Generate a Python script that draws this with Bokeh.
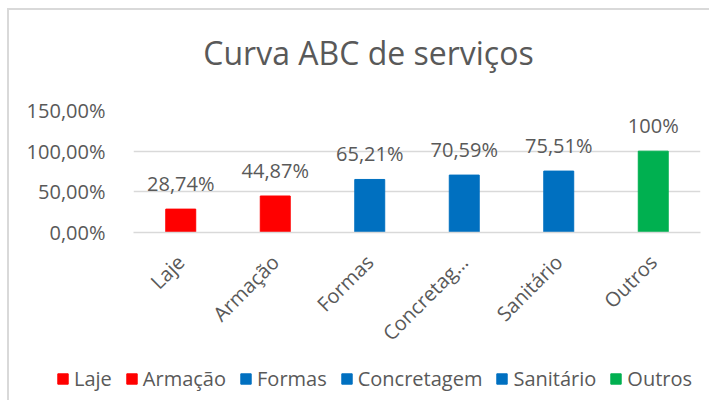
from bokeh.plotting import figure
from bokeh.models import ColumnDataSource, Range1d, FixedTicker, LabelSet, Label
from bokeh.layouts import column
from bokeh.core.properties import value
from bokeh.embed import file_html
from bokeh.resources import INLINE
import math

title_text = "Curva ABC de serviços"
categories = ["Laje", "Armação", "Formas", "Concretagem", "Sanitário", "Outros"]
x_tick_labels = ["Laje", "Armação", "Formas", "Concretag…", "Sanitário", "Outros"]
values = [28.74, 44.87, 65.21, 70.59, 75.51, 100.0]
value_labels = ["28,74%", "44,87%", "65,21%", "70,59%", "75,51%", "100%"]
colors = ["#FF0000", "#FF0000", "#0070C0", "#0070C0", "#0070C0", "#00B050"]
y_ticks = [0, 50, 100, 150]
y_tick_labels = ["0,00%", "50,00%", "100,00%", "150,00%"]

FONT = "Open Sans"
TXT = "#595959"
W = 700

src = ColumnDataSource(dict(x=x_tick_labels, name=categories, val=values,
                            lab=value_labels, col=colors))

# ---- title strip ----
TH = 85
pt = figure(x_range=Range1d(0, W), y_range=Range1d(0, TH), width=W, height=TH,
            output_backend="svg", toolbar_location=None,
            x_axis_location=None, y_axis_location=None, min_border=0)
pt.frame_align = False
pt.outline_line_color = None
pt.grid.grid_line_color = None
pt.add_layout(Label(x=359, y=TH - 42, text=title_text, text_align="center",
                    text_baseline="alphabetic", text_font=FONT,
                    text_font_size="32px", text_color=TXT))

# ---- chart ----
p = figure(x_range=x_tick_labels, y_range=Range1d(0, 150), width=W, height=265,
           output_backend="svg", toolbar_location=None,
           min_border_left=124, min_border_right=9, min_border_top=15, min_border_bottom=128)
p.frame_align = False

p.vbar(x="x", top="val", width=0.317, color="col", source=src)

labels = LabelSet(x="x", y="val", text="lab", source=src, text_align="center",
                  text_baseline="alphabetic", y_offset=18, text_font=value(FONT),
                  text_font_size="20px", text_color=TXT)
p.add_layout(labels)

p.outline_line_color = None
p.xgrid.grid_line_color = None
p.ygrid.grid_line_color = "#D9D9D9"
p.ygrid.grid_line_width = 1.5

p.yaxis.ticker = FixedTicker(ticks=y_ticks)
p.yaxis.major_label_overrides = dict(zip(y_ticks, y_tick_labels))
p.yaxis.axis_line_color = None
p.yaxis.major_tick_line_color = None
p.yaxis.minor_tick_line_color = None
p.yaxis.major_label_standoff = 22
p.yaxis.major_label_text_font = FONT
p.yaxis.major_label_text_font_size = "20px"
p.yaxis.major_label_text_color = TXT

p.xaxis.axis_line_color = "#D9D9D9"
p.xaxis.axis_line_width = 1.5
p.xaxis.major_tick_line_color = None
p.xaxis.major_label_orientation = math.pi / 4
p.xaxis.major_label_standoff = 20
p.xaxis.major_label_text_font = FONT
p.xaxis.major_label_text_font_size = "20px"
p.xaxis.major_label_text_color = TXT

# ---- legend strip ----
pl = figure(x_range=x_tick_labels, y_range=Range1d(1000, 1001), width=W, height=40,
            output_backend="svg", toolbar_location=None,
            x_axis_location=None, y_axis_location=None, min_border=0)
pl.frame_align = False
pl.outline_line_color = None
pl.grid.grid_line_color = None
pl.vbar(x="x", top="val", width=0.317, color="col", source=src, legend_field="name")

leg = pl.legend[0]
leg.orientation = "horizontal"
leg.location = (47, 8)
leg.glyph_width = 13
leg.glyph_height = 13
leg.label_standoff = 5
leg.spacing = 13
leg.padding = 0
leg.margin = 0
leg.border_line_color = None
leg.background_fill_alpha = 0
leg.label_text_font = FONT
leg.label_text_font_size = "20px"
leg.label_text_color = TXT

layout = column(pt, p, pl, spacing=0)
layout.margin = (8, 0, 0, 7)
layout.styles = {"border-left": "2px solid #D9D9D9", "border-top": "2px solid #D9D9D9"}

open("out.html", "w").write(file_html(layout, INLINE))
